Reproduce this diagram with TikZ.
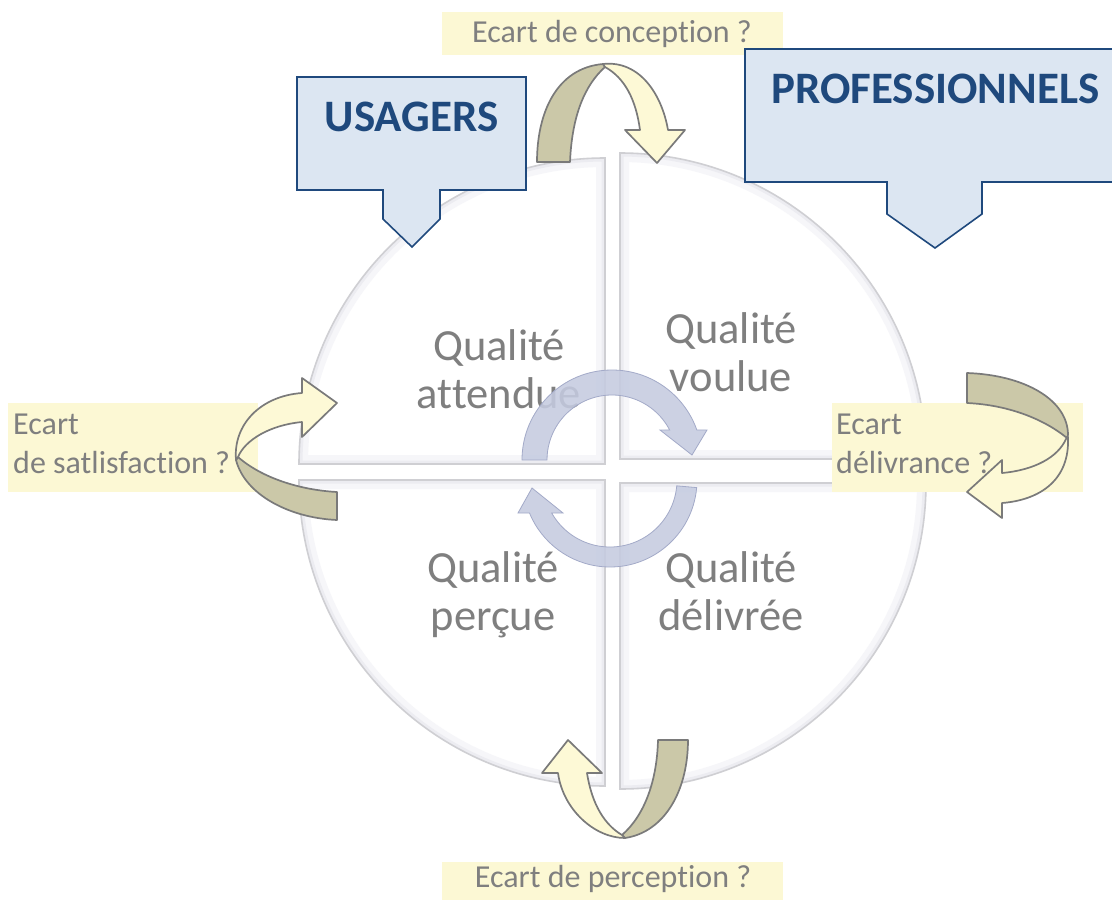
\documentclass[tikz,border=0pt]{standalone}
\usepackage{fontspec}
\setmainfont{Carlito}[Ligatures=NoCommon]
\definecolor{txtgray}{HTML}{7F7F7F}
\definecolor{lblfill}{HTML}{FCF8D4}
\definecolor{calfill}{HTML}{DCE6F2}
\definecolor{caldraw}{HTML}{1F497D}
\definecolor{ribdark}{HTML}{CBC8A8}
\definecolor{riblight}{HTML}{FDF9D6}
\definecolor{ribline}{HTML}{7A7A7A}
\definecolor{cycfill}{HTML}{C5CBE0}
\definecolor{cycdraw}{HTML}{A3AAC8}
\definecolor{secline}{HTML}{CFCFD3}
\definecolor{glowA}{HTML}{F6F6F9}
\definecolor{glowB}{HTML}{ECECF1}
\tikzset{
  qtext/.style={anchor=base,inner sep=0pt,text=txtgray,font=\fontsize{44.5}{48}\selectfont},
  ltext/.style={inner sep=0pt,text=txtgray,font=\fontsize{32}{38}\selectfont},
  lblbox/.style={fill=lblfill,draw=none},
  callout/.style={fill=calfill,draw=caldraw,line width=1.6pt,line join=miter},
  caltext/.style={anchor=base,inner sep=0pt,text=caldraw,font=\bfseries\fontsize{45}{48}\selectfont},
  rdark/.style={fill=ribdark,draw=ribline,line width=1.7pt,line join=round},
  rlight/.style={fill=riblight,draw=ribline,line width=1.7pt,line join=round},
  cyc/.style={fill=cycfill,draw=cycdraw,line width=0.8pt,fill opacity=0.88},
}
\newcommand{\sectorpath}[4]{(#1) -- (#2) arc[start angle=#3,end angle=#4,radius=306pt] -- cycle}
\begin{document}
\begin{tikzpicture}[x=1pt,y=-1pt]
\useasboundingbox (0,0) rectangle (1112,900);
\clip (0,0) rectangle (1112,900);
\fill[white] (0,0) rectangle (1112,900);

% ---- four sectors of the circle
\coordinate (c1) at (605,464); \coordinate (s1) at (299,464);
\coordinate (c2) at (620,459); \coordinate (s2) at (620,153);
\coordinate (c3) at (620,483); \coordinate (s3) at (926,483);
\coordinate (c4) at (605,480); \coordinate (s4) at (605,786);
\foreach \c/\s/\a/\b in {c1/s1/180/90, c2/s2/90/0, c3/s3/0/-90, c4/s4/-90/-180}{
  \begin{scope}
    \clip \sectorpath{\c}{\s}{\a}{\b};
    \fill[white] \sectorpath{\c}{\s}{\a}{\b};
    \draw[glowA,line width=18pt] \sectorpath{\c}{\s}{\a}{\b};
    \draw[glowB,line width=7pt] \sectorpath{\c}{\s}{\a}{\b};
  \end{scope}
  \draw[secline,line width=1.6pt] \sectorpath{\c}{\s}{\a}{\b};
}

% ---- quality texts
\node[qtext] (qa1) at (499,360) {Qualité};
\node[qtext] (qa2) at (499,408) {attendue};
\node[qtext] (qv1) at (731,343) {Qualité};
\node[qtext] (qv2) at (731,391) {voulue};
\node[qtext] (qp1) at (493,582) {Qualité};
\node[qtext] (qp2) at (493,630) {perçue};
\node[qtext] (qd1) at (731,582) {Qualité};
\node[qtext] (qd2) at (731,630) {délivrée};

% ---- central cycle arrows
\coordinate (ct) at (612,460);
\coordinate (cb) at (610,480);
\draw[cyc] ([shift={(ct)}]180:90pt) arc[start angle=180,end angle=19.5,radius=90pt]
  -- (707,430) -- (692,455) -- (660,430) -- ([shift={(ct)}]27.5:65pt)
  arc[start angle=27.5,end angle=180,radius=65pt] -- cycle;
\draw[cyc] ([shift={(cb)}]-5:87pt) arc[start angle=-5,end angle=-157.7,radius=87pt]
  -- (518,513) -- (532,488) -- (563,513) -- ([shift={(cb)}]-150.5:67pt)
  arc[start angle=-150.5,end angle=-5,radius=67pt] -- cycle;

% ---- label boxes
\fill[lblbox] (442,12) rectangle (783,55);
\fill[lblbox] (442,862) rectangle (783,905);
\fill[lblbox] (8,403) rectangle (258,492);
\fill[lblbox] (832,403) rectangle (1083,492);
\node[ltext,anchor=base] (lt) at (612,42) {Ecart de conception ?};
\node[ltext,anchor=base] (lb) at (613,887) {Ecart de perception ?};
\node[ltext,anchor=base west] (ll1) at (13,434) {Ecart};
\node[ltext,anchor=base west] (ll2) at (13,473) {de satlisfaction ?};
\node[ltext,anchor=base west] (lr1) at (836,434) {Ecart};
\node[ltext,anchor=base west] (lr2) at (836,473) {délivrance ?};

% ---- curved ribbons
% top
\draw[rdark] (537,162) .. controls (537,112) and (557,68) .. (603,64) -- (605,67)
  .. controls (585,85) and (572,115) .. (570,162) -- cycle;
\draw[rlight] (603,64) .. controls (640,60) and (662,95) .. (668,130) -- (685,130)
  -- (657,163) -- (625,130) -- (640,130) .. controls (636,100) and (625,78) .. (605,67) -- cycle;
% bottom
\draw[rdark] (658,740) -- (688,740) .. controls (688,790) and (665,832) .. (625,838)
  -- (622,835) .. controls (645,815) and (657,780) .. (658,740) -- cycle;
\draw[rlight] (542,773) -- (568,740) -- (602,773) -- (587,773)
  .. controls (592,805) and (605,825) .. (622,835) -- (625,838)
  .. controls (595,838) and (563,810) .. (558,773) -- cycle;
% left
\draw[rdark] (238,457) .. controls (262,478) and (300,490) .. (337,492) -- (337,520)
  .. controls (290,518) and (245,495) .. (236,460) -- cycle;
\draw[rlight] (302,378) -- (337,403) -- (302,437) -- (302,422)
  .. controls (270,425) and (245,440) .. (238,457) -- (236,460)
  .. controls (233,425) and (260,396) .. (302,393) -- cycle;
% right
\draw[rdark] (967,373) .. controls (1025,375) and (1068,400) .. (1068,435) -- (1067,438)
  .. controls (1045,420) and (1010,405) .. (967,403) -- cycle;
\draw[rlight] (1068,437) .. controls (1070,480) and (1040,500) .. (1002,503) -- (1002,518)
  -- (967,492) -- (1002,460) -- (1002,473) .. controls (1035,470) and (1058,457) .. (1066,439) -- cycle;

% ---- callouts
\draw[callout] (297,77) -- (526,77) -- (526,190) -- (440,190) -- (440,219) -- (412,247)
  -- (383,219) -- (383,190) -- (297,190) -- cycle;
\node[caltext] (us) at (411.5,131) {USAGERS};
\draw[callout] (745,49) -- (1118,49) -- (1118,182) -- (982,182) -- (982,214) -- (935,248)
  -- (887,214) -- (887,182) -- (745,182) -- cycle;
\node[caltext] (pro) at (935.5,103) {PROFESSIONNELS};
\end{tikzpicture}
\end{document}
